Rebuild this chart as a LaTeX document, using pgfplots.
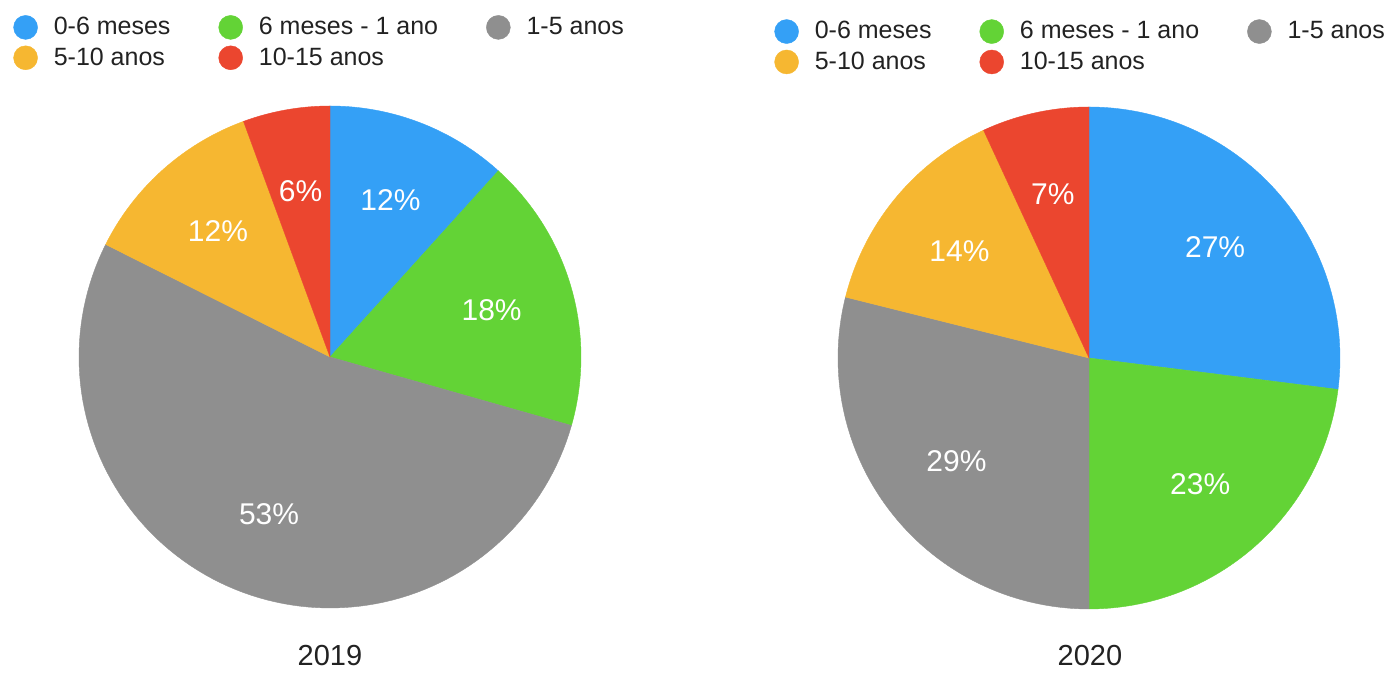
\documentclass[border=0pt]{standalone}
\usepackage{fontspec}
\setmainfont{Liberation Sans}
\usepackage{pgfplots}
\usepackage{pgfplotstable}
\pgfplotsset{compat=1.18}
\definecolor{cblue}{HTML}{34A0F6}
\definecolor{cgreen}{HTML}{63D336}
\definecolor{cgray}{HTML}{8F8F8F}
\definecolor{corange}{HTML}{F6B731}
\definecolor{cred}{HTML}{EB462F}
\definecolor{ctext}{HTML}{222222}

% 2019
\pgfplotstableread{
pct lab
11.7 12
17.7 18
53.0 53
12.0 12
5.6 6
}\dataA
% 2020
\pgfplotstableread{
pct lab
27.0 27
23.0 23
28.9 29
14.2 14
6.9 7
}\dataB
\pgfplotstablecreatecol[create col/expr accum={\pgfmathaccuma + \thisrow{pct}}{0}]{cum}\dataA
\pgfplotstablecreatecol[create col/expr accum={\pgfmathaccuma + \thisrow{pct}}{0}]{cum}\dataB

\def\R{251}
\newcommand\labfont{\fontsize{15}{18}\selectfont}
\newcommand\slice[5]{%
  \pgfplotstablegetelem{#2}{cum}\of#1\let\scum\pgfplotsretval
  \pgfplotstablegetelem{#2}{pct}\of#1\let\spct\pgfplotsretval
  \pgfplotstablegetelem{#2}{lab}\of#1\let\slab\pgfplotsretval
  \pgfmathsetmacro\aend{3.6*\scum}%
  \pgfmathsetmacro\astart{3.6*(\scum-\spct)}%
  \pgfmathsetmacro\amid{(\astart+\aend)/2}%
  \pgfmathsetmacro\lx{#3+0.67*\R*sin(\amid)}%
  \pgfmathsetmacro\ly{#4+0.67*\R*cos(\amid)}%
  \edef\temp{\noexpand\addplot[fill=#5, draw=#5, line width=0.2pt, domain=\astart:\aend, samples=100] ({#3+\R*sin(x)},{#4+\R*cos(x)}) -- (axis cs:#3,#4) -- cycle;
    \noexpand\node[text=white, font=\noexpand\labfont] at (axis cs:\lx,\ly) {\slab\noexpand\%};}%
  \temp
}

\pgfplotsset{
  piestyle/.style={
    scale only axis, width=347.25pt, height=336.5pt,
    ymin=0, ymax=673, hide axis, clip=false,
    legend columns=3,
    legend cell align=left,
    legend image code/.code={\fill[##1] (0pt,0pt) circle (6pt);},
    legend style={draw=none, fill=none, anchor=north west,
      inner sep=0pt, row sep=3pt,
      font=\fontsize{12.5}{15}\selectfont, text=ctext,
      nodes={inner sep=0pt},
      /tikz/every odd column/.style={column sep=8pt},
      /tikz/every even column/.style={column sep=24pt}},
  }
}

\begin{document}
\begin{tikzpicture}
\path[use as bounding box] (0pt,0pt) rectangle (694.5pt,336.5pt);
\begin{axis}[piestyle, xmin=0, xmax=694.5,
  legend style={at={(axis description cs:0.0187,0.978)}}]
  \slice{\dataA}{0}{330}{316}{cblue}\addlegendentry{0-6 meses}
  \slice{\dataA}{1}{330}{316}{cgreen}\addlegendentry{6 meses - 1 ano}
  \slice{\dataA}{2}{330}{316}{cgray}\addlegendentry{1-5 anos}
  \slice{\dataA}{3}{330}{316}{corange}\addlegendentry{5-10 anos}
  \slice{\dataA}{4}{330}{316}{cred}\addlegendentry{10-15 anos}
  \node[font=\fontsize{14.5}{17}\selectfont, text=ctext] at (axis cs:330,17) {2019};
\end{axis}
\begin{axis}[piestyle, xmin=694.5, xmax=1389, at={(347.25pt,0pt)},
  legend style={at={(axis description cs:0.1145,0.9718)}}]
  \slice{\dataB}{0}{1089}{315}{cblue}\addlegendentry{0-6 meses}
  \slice{\dataB}{1}{1089}{315}{cgreen}\addlegendentry{6 meses - 1 ano}
  \slice{\dataB}{2}{1089}{315}{cgray}\addlegendentry{1-5 anos}
  \slice{\dataB}{3}{1089}{315}{corange}\addlegendentry{5-10 anos}
  \slice{\dataB}{4}{1089}{315}{cred}\addlegendentry{10-15 anos}
  \node[font=\fontsize{14.5}{17}\selectfont, text=ctext] at (axis cs:1090,17) {2020};
\end{axis}
\end{tikzpicture}
\end{document}
